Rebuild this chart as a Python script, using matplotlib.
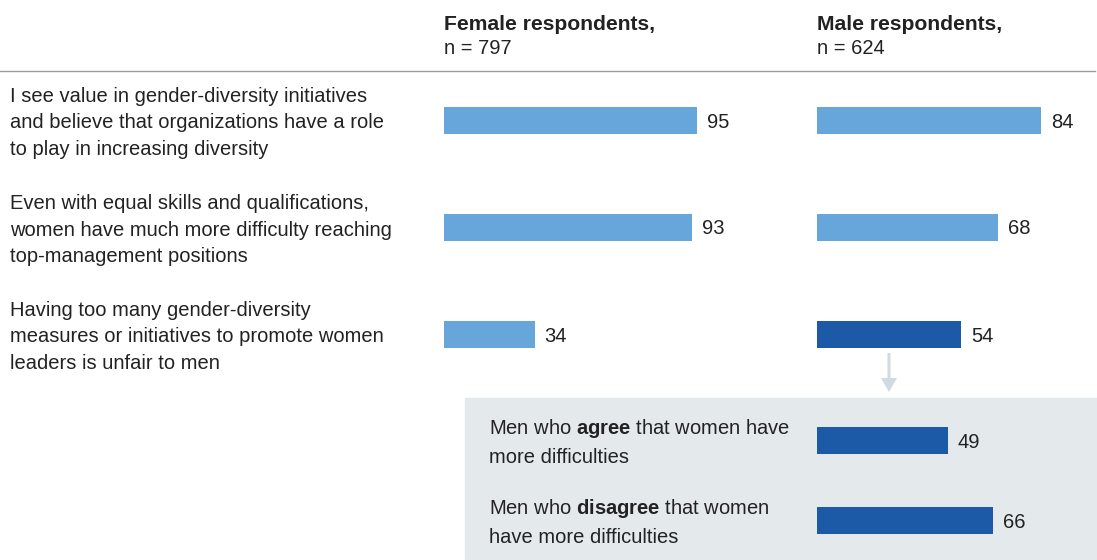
import matplotlib.pyplot as plt
from matplotlib.patches import Rectangle, FancyArrow

plt.rcParams['font.family'] = ['Liberation Sans', 'DejaVu Sans']
plt.rcParams['mathtext.fontset'] = 'custom'
plt.rcParams['mathtext.rm'] = 'Liberation Sans'
plt.rcParams['mathtext.bf'] = 'Liberation Sans:bold'

# data
statements = [
    "I see value in gender-diversity initiatives\nand believe that organizations have a role\nto play in increasing diversity",
    "Even with equal skills and qualifications,\nwomen have much more difficulty reaching\ntop-management positions",
    "Having too many gender-diversity\nmeasures or initiatives to promote women\nleaders is unfair to men",
]
female = [95, 93, 34]
male = [84, 68, 54]
sub_labels = [
    "Men who $\\mathbf{agree}$ that women have\nmore difficulties",
    "Men who $\\mathbf{disagree}$ that women\nhave more difficulties",
]
sub_male = [49, 66]
headers = ["Female respondents,", "Male respondents,"]
n_labels = ["n = 797", "n = 624"]

LIGHT = '#67a6da'
DARK = '#1c5aa8'
TXT = '#222222'
W, H = 1097, 560
PX = 2.664  # pixels per percentage point

fig = plt.figure(figsize=(W / 100, H / 100), dpi=100)
bg = fig.add_axes([0, 0, 1, 1])
bg.set_xlim(0, W)
bg.set_ylim(H, 0)
bg.axis('off')

# gray box and arrow
bg.add_patch(Rectangle((465, 398), W - 465, H - 398, color='#e4e9ec', zorder=0))
bg.add_patch(FancyArrow(889, 353, 0, 39, width=3, head_width=16, head_length=14,
                        length_includes_head=True, color='#d0dae1', lw=0))
bg.plot([0, 1095], [70.5, 70.5], color='#9a9a9a', lw=1)

row_y = [120, 227, 334]
sub_y = [440, 520]
fs = 14.5
ls = 1.53

for x0, h, n in zip([444, 817], headers, n_labels):
    bg.text(x0, 22, h, fontsize=15.2, fontweight='bold', color=TXT, va='center_baseline')
    bg.text(x0, 47, n, fontsize=fs, color=TXT, va='center_baseline')

for y, s in zip(row_y, statements):
    bg.text(10, y + 3, s, fontsize=fs, color=TXT, va='center', linespacing=ls)
for y, s in zip(sub_y, sub_labels):
    bg.text(489, y + 2, s, fontsize=fs, color=TXT, va='center', linespacing=ls)


def bar_axes(x0):
    ax = fig.add_axes([x0 / W, 0, 110 * PX / W, 1])
    ax.set_xlim(0, 110)
    ax.set_ylim(H, 0)
    ax.axis('off')
    ax.patch.set_alpha(0)
    return ax


fa = bar_axes(444)
fa.barh(row_y, female, height=27, color=LIGHT)
for y, v in zip(row_y, female):
    fa.text(v + 10 / PX, y, str(v), fontsize=fs, color=TXT, va='center_baseline')

ma = bar_axes(817)
ma.barh(row_y, male, height=27, color=[LIGHT, LIGHT, DARK])
ma.barh(sub_y, sub_male, height=27, color=DARK)
for y, v in zip(row_y + sub_y, male + sub_male):
    ma.text(v + 10 / PX, y, str(v), fontsize=fs, color=TXT, va='center_baseline')

fig.savefig('out.png', dpi=100)
